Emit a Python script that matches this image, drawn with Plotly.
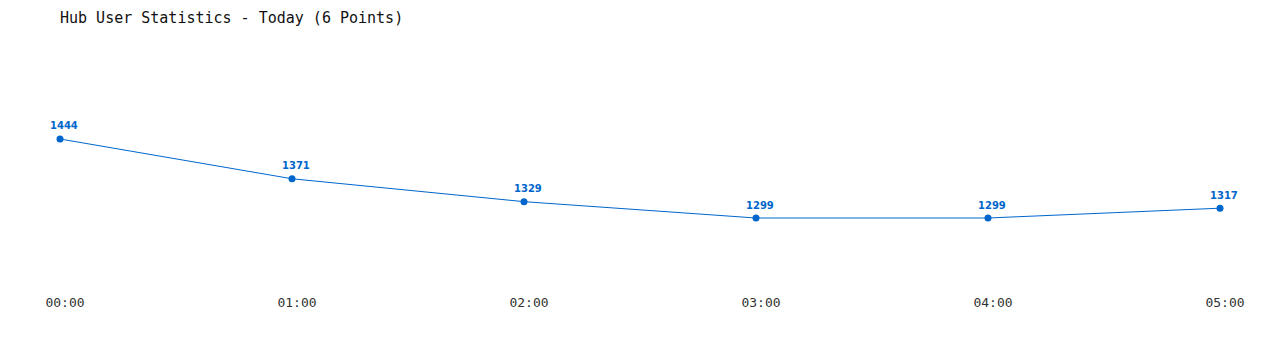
import plotly.graph_objects as go

hours = ["00:00", "01:00", "02:00", "03:00", "04:00", "05:00"]
users = [1444, 1371, 1329, 1299, 1299, 1317]
xpos = list(range(len(hours)))

color = "#0066CC"

fig = go.Figure()
fig.add_trace(go.Scatter(
    x=xpos, y=users,
    mode="lines+markers",
    line=dict(color=color, width=1),
    marker=dict(color=color, size=7),
    cliponaxis=False,
    hoverinfo="skip",
))

for xi, u in zip(xpos, users):
    fig.add_annotation(
        x=xi, y=u, text=str(u), showarrow=False,
        xanchor="center", yanchor="middle",
        xshift=4, yshift=13,
        font=dict(family="DejaVu Sans", size=10, color=color, weight="bold"),
    )

fig.update_layout(
    width=1280, height=350,
    margin=dict(l=60, r=60, t=50, b=60),
    paper_bgcolor="white", plot_bgcolor="white",
    showlegend=False,
    title=dict(
        text="Hub User Statistics - Today (6 Points)",
        font=dict(family="DejaVu Sans Mono", size=15, color="#111111"),
        x=60/1280, xref="container", xanchor="left",
        y=1 - 18/350, yref="container", yanchor="middle",
    ),
    xaxis=dict(
        range=[0, 5], tickvals=xpos, ticktext=hours,
        showgrid=False, zeroline=False, showline=False, ticks="",
        tickfont=dict(family="DejaVu Sans Mono", size=13, color="#333333"),
        ticklabelshift=5, ticklabelstandoff=3,
    ),
    yaxis=dict(
        range=[1166.9, 1607.3], visible=False, showgrid=False, zeroline=False,
    ),
)

fig.write_html("out.html")
